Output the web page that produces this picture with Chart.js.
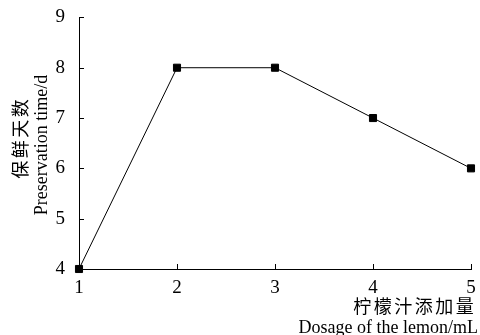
<!DOCTYPE html>
<html>
<head>
<meta charset="utf-8">
<script src="https://cdn.jsdelivr.net/npm/chart.js@4.4.0/dist/chart.umd.min.js"></script>
<style>
  html, body { margin: 0; padding: 0; background: #fff; }
  #wrap { width: 480px; height: 335px; }
</style>
</head>
<body>
<div id="wrap"><canvas id="chart" width="480" height="335"></canvas></div>
<script>
// data
const dosage = [1, 2, 3, 4, 5];
const days = [4, 8, 8, 7, 6];
const xTicks = [1, 2, 3, 4, 5];
const yTicks = [4, 5, 6, 7, 8, 9];
const yTitle = ['保鲜天数', 'Preservation time/d'];
const xTitle = ['柠檬汁添加量', 'Dosage of the lemon/mL'];

const serif = '"Liberation Serif", "Times New Roman", serif';
const cjk = '"Noto Sans CJK SC", sans-serif';

// draw CJK text one glyph at a time with a fixed pitch
function spaced(ctx, text, cx, cy, pitch) {
    const chars = Array.from(text);
    const start = cx - pitch * (chars.length - 1) / 2;
    chars.forEach((c, i) => ctx.fillText(c, start + i * pitch, cy));
}

// inward tick marks + two-line axis titles
const decor = {
    id: 'decor',
    afterDraw(chart) {
        const ctx = chart.ctx;
        const xs = chart.scales.x, ys = chart.scales.y;
        const area = chart.chartArea;
        ctx.save();
        ctx.strokeStyle = '#000';
        ctx.lineWidth = 1;
        ctx.beginPath();
        xTicks.slice(1).forEach(v => {
            const px = Math.round(xs.getPixelForValue(v)) + 0.5;
            ctx.moveTo(px, area.bottom);
            ctx.lineTo(px, area.bottom - 5);
        });
        yTicks.slice(1).forEach(v => {
            const py = Math.round(ys.getPixelForValue(v)) + 0.5;
            ctx.moveTo(area.left, py);
            ctx.lineTo(area.left + 5, py);
        });
        ctx.stroke();

        // y title (rotated)
        const cy = (area.top + area.bottom) / 2;
        ctx.fillStyle = '#000';
        ctx.textAlign = 'center';
        ctx.textBaseline = 'middle';
        ctx.translate(0, cy);
        ctx.rotate(-Math.PI / 2);
        ctx.font = '18px ' + cjk;
        spaced(ctx, yTitle[0], -(139 - cy), 20, 20.5);
        ctx.save();
        ctx.scale(1, 1.1);
        ctx.font = '18px ' + serif;
        ctx.fillText(yTitle[1], -(145 - cy), 42 / 1.1);
        ctx.restore();
        ctx.restore();

        // x title (right side)
        ctx.save();
        ctx.fillStyle = '#000';
        ctx.textAlign = 'center';
        ctx.textBaseline = 'middle';
        ctx.font = '18px ' + cjk;
        spaced(ctx, xTitle[0], 413.5, 306, 20.5);
        ctx.textAlign = 'right';
        ctx.scale(1, 1.1);
        ctx.font = '18px ' + serif;
        ctx.fillText(xTitle[1], 478, 328 / 1.1);
        ctx.restore();
    }
};

new Chart(document.getElementById('chart'), {
    type: 'line',
    data: {
        datasets: [{
            data: dosage.map((d, i) => ({ x: d, y: days[i] })),
            borderColor: '#000',
            borderWidth: 1,
            tension: 0,
            clip: false,
            pointStyle: 'rect',
            pointRadius: 5,
            pointBackgroundColor: '#000',
            pointBorderColor: '#000',
            pointBorderWidth: 1
        }]
    },
    options: {
        responsive: false,
        animation: false,
        layout: { padding: { left: 0, right: 9, top: 15, bottom: 0 } },
        plugins: { legend: { display: false }, tooltip: { enabled: false } },
        scales: {
            x: {
                type: 'linear',
                min: 1, max: 5,
                afterBuildTicks: (s) => { s.ticks = xTicks.map(v => ({ value: v })); },
                afterFit: (s) => { s.height = 66; },
                grid: { display: false },
                border: { display: true, color: '#000', width: 1 },
                ticks: { color: '#000', padding: 0, font: { family: serif, size: 19 } }
            },
            y: {
                min: 4, max: 9,
                afterBuildTicks: (s) => { s.ticks = yTicks.map(v => ({ value: v })); },
                afterFit: (s) => { s.width = 79; },
                grid: { display: false },
                border: { display: true, color: '#000', width: 1 },
                ticks: { color: '#000', padding: 6, font: { family: serif, size: 19 } }
            }
        }
    },
    plugins: [decor]
});
</script>
</body>
</html>
